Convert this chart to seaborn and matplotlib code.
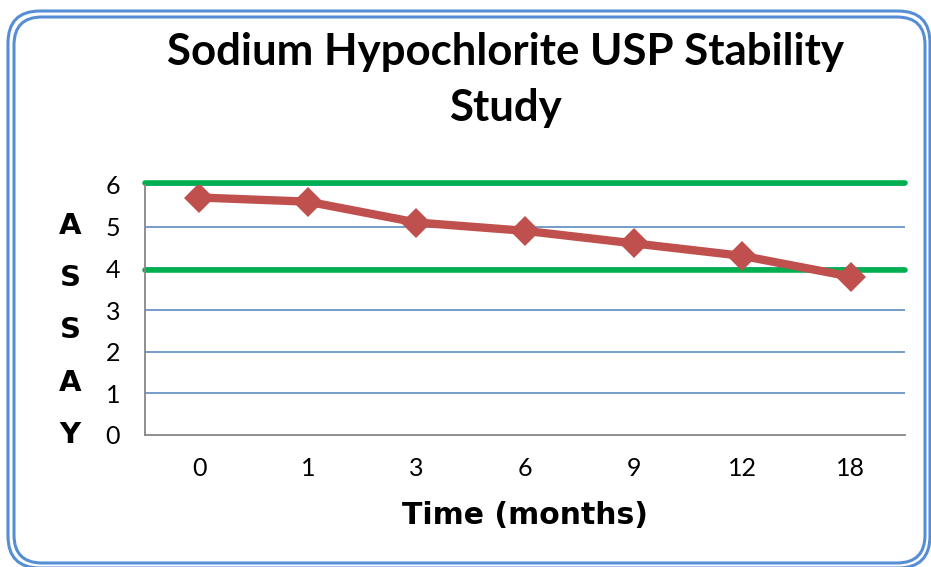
import matplotlib
matplotlib.use("Agg")
import matplotlib.pyplot as plt
from matplotlib.patches import FancyBboxPatch
from matplotlib.transforms import IdentityTransform
import seaborn as sns
import pandas as pd

months = ["0", "1", "3", "6", "9", "12", "18"]
assay = [5.7, 5.6, 5.1, 4.9, 4.6, 4.3, 3.8]
upper_limit = 6.05
lower_limit = 3.95
yticks = [0, 1, 2, 3, 4, 5, 6]

sns.set_style("white")
plt.rcParams["font.family"] = ["Lato", "DejaVu Sans"]
plt.rcParams["text.color"] = "black"
plt.rcParams["xtick.labelcolor"] = "black"
plt.rcParams["ytick.labelcolor"] = "black"

df = pd.DataFrame({"pos": range(len(months)), "assay": assay})

fig = plt.figure(figsize=(9.31, 5.67), dpi=100)
ax = fig.add_axes([145 / 931, 1 - 435 / 567, 760 / 931, 250 / 567])

# gridlines
for y in yticks[1:]:
    ax.axhline(y, color="#4F81BD", lw=1.1, zorder=1)

# spec limits
ax.axhline(upper_limit, color="#00B050", lw=4, zorder=2, clip_on=False)
ax.axhline(lower_limit, color="#00B050", lw=4, zorder=2, clip_on=False)

sns.lineplot(data=df, x="pos", y="assay", ax=ax, color="#C0504D", lw=6,
             marker="D", markersize=15, markeredgewidth=0, zorder=3)

ax.set_xlim(-0.5, len(months) - 0.5)
ax.set_ylim(0, 6)
ax.set_yticks(yticks)
ax.set_xticks([i - 0.5 for i in range(len(months) + 1)])
ax.set_xticklabels([])
ax.set_xticks(range(len(months)), minor=True)
ax.set_xticklabels(months, minor=True)
ax.tick_params(axis="x", which="major", direction="out", length=7, color="#868686", width=1.3)
ax.tick_params(axis="x", which="minor", length=0, pad=16, labelsize=18)
ax.tick_params(axis="y", direction="out", length=7, color="#868686", width=1.3,
               labelsize=18, pad=11)
ax.set_xlabel("")
ax.set_ylabel("")
for s in ["top", "right"]:
    ax.spines[s].set_visible(False)
for s in ["left", "bottom"]:
    ax.spines[s].set_color("#868686")
    ax.spines[s].set_linewidth(1.3)

fig.text(505 / 931, 1 - 80 / 567, "Sodium Hypochlorite USP Stability\nStudy",
         ha="center", va="center", fontsize=31.5, fontweight="bold", linespacing=1.5)
fig.text(525 / 931, 1 - 516 / 567, "Time (months)", ha="center", va="center",
         fontsize=21.5, fontweight="bold", family=["DejaVu Sans"])
for i, letter in enumerate("ASSAY"):
    fig.text(70 / 931, 1 - (226 + i * 52.25) / 567, letter, ha="center", va="center",
             fontsize=21, fontweight="bold", family=["DejaVu Sans"])

# double rounded border
for x0, y0, x1, y1, r in [(8, 11, 930, 568, 32), (14, 17, 925, 563, 28)]:
    fig.patches.append(FancyBboxPatch((x0, 567 - y1), x1 - x0, y1 - y0,
                                      boxstyle=f"round,pad=0,rounding_size={r}",
                                      fill=False, ec="#558ED5", lw=2.2,
                                      transform=IdentityTransform(), figure=fig))

fig.savefig("out.png", dpi=100, facecolor="white")
